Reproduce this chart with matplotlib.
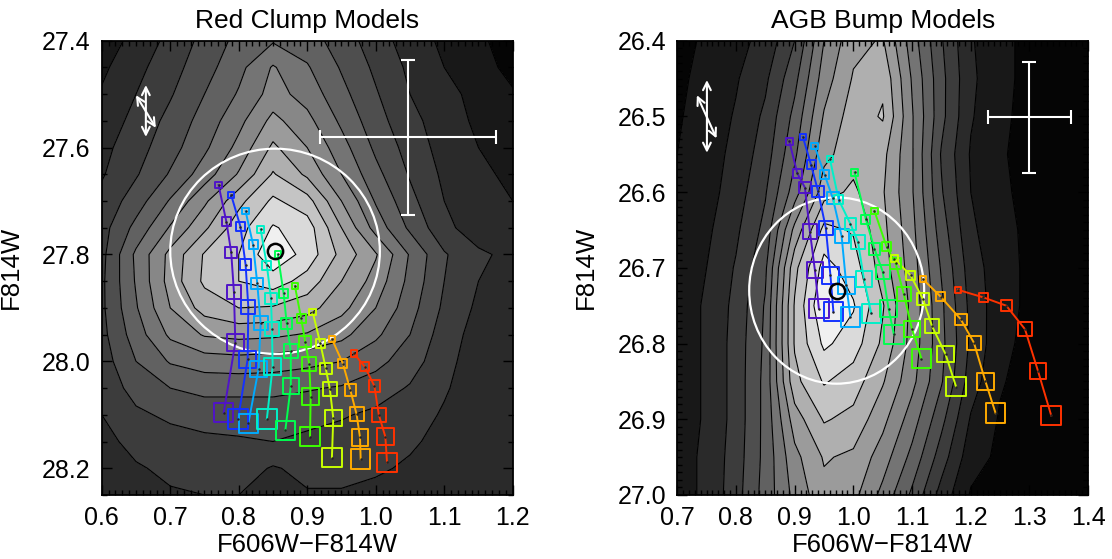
#!/usr/bin/env python3
import numpy as np
import matplotlib
matplotlib.use("Agg")
import matplotlib.pyplot as plt
from matplotlib.patches import Ellipse
from matplotlib.ticker import MultipleLocator, FormatStrFormatter

plt.rcParams["font.family"] = ["Liberation Sans", "DejaVu Sans"]

# ---------------------------------------------------------------- density maps
# binned star density, expressed in contour-level units
RC_COLOR = np.arange(0.60, 1.2001, 0.05)
RC_MAG = np.arange(27.40, 28.2501, 0.05)
RC_DENSITY = [
    [1.0, 1.8, 2.8, 3.8, 4.8, 5.4, 5.0, 4.0, 3.0, 2.0, 1.3, 0.7, 0.0],
    [1.3, 2.2, 3.1, 4.1, 5.2, 6.6, 5.6, 4.4, 3.3, 2.3, 1.5, 0.9, 0.2],
    [1.6, 2.5, 3.4, 4.5, 5.6, 6.9, 6.1, 4.8, 3.6, 2.5, 1.8, 1.2, 0.6],
    [1.9, 2.8, 3.8, 4.9, 6.2, 7.8, 6.8, 5.3, 3.9, 2.8, 2.0, 1.3, 0.9],
    [2.2, 3.1, 4.1, 5.3, 6.8, 8.7, 7.5, 5.9, 4.3, 3.1, 2.1, 1.5, 1.2],
    [2.4, 3.4, 4.6, 6.0, 7.6, 9.6, 8.3, 6.5, 4.8, 3.4, 2.3, 1.6, 1.4],
    [2.8, 4.0, 5.6, 7.3, 9.2, 10.7, 9.9, 7.5, 5.4, 3.8, 2.5, 1.7, 1.5],
    [3.1, 4.8, 6.6, 8.3, 10.1, 11.6, 11.0, 8.5, 6.1, 4.3, 2.8, 1.9, 1.6],
    [3.2, 5.7, 7.8, 9.6, 10.5, 12.3, 11.1, 9.2, 7.6, 5.4, 3.6, 2.7, 2.2],
    [3.3, 5.6, 7.9, 9.7, 10.5, 11.0, 10.1, 8.5, 7.1, 5.2, 3.5, 2.5, 2.0],
    [3.3, 5.4, 7.5, 8.9, 9.5, 9.4, 8.9, 7.8, 6.5, 4.9, 3.3, 2.3, 1.8],
    [3.2, 5.0, 6.7, 7.6, 7.8, 7.7, 7.4, 6.8, 5.7, 4.5, 3.0, 2.1, 1.7],
    [3.0, 4.5, 5.6, 6.0, 6.1, 6.0, 5.8, 5.5, 4.8, 4.0, 2.8, 2.0, 1.8],
    [2.8, 3.9, 4.5, 4.8, 4.8, 4.8, 4.6, 4.4, 4.0, 3.4, 2.6, 2.0, 1.8],
    [2.5, 3.3, 3.7, 3.9, 3.9, 3.9, 3.8, 3.6, 3.3, 2.9, 2.4, 2.1, 1.9],
    [2.2, 2.8, 3.1, 3.3, 3.4, 3.5, 3.3, 3.1, 2.9, 2.6, 2.3, 2.2, 2.0],
    [2.0, 2.4, 2.7, 2.9, 3.0, 2.4, 2.8, 2.8, 2.6, 2.4, 2.3, 2.2, 2.1],
    [1.8, 2.2, 2.4, 2.5, 2.5, 2.2, 2.4, 2.4, 2.3, 2.2, 2.2, 2.1, 2.0],
]

AGB_COLOR = np.arange(0.70, 1.4001, 0.05)
AGB_MAG = np.arange(26.40, 27.0001, 0.05)
AGB_DENSITY = [
    [0.3, 0.6, 1.2, 1.8, 3.5, 6.5, 8.2, 8.6, 6.0, 3.6, 1.6, 0.8, 0.2, 0.0, 0.0],
    [0.3, 0.8, 1.4, 2.3, 4.2, 7.0, 8.6, 9.3, 6.4, 3.8, 1.7, 0.8, 0.2, 0.0, 0.0],
    [0.4, 0.9, 1.6, 2.7, 4.8, 7.6, 9.0, 9.6, 6.6, 3.8, 1.6, 0.7, 0.2, 0.0, 0.0],
    [0.5, 1.0, 1.8, 3.0, 5.3, 8.2, 9.1, 8.8, 6.6, 3.4, 1.4, 0.6, 0.2, 0.0, 0.0],
    [0.6, 1.1, 2.0, 3.4, 6.0, 9.1, 9.7, 8.6, 6.6, 3.6, 1.5, 0.7, 0.2, 0.0, 0.0],
    [0.9, 1.3, 2.3, 3.8, 7.8, 10.8, 10.4, 8.8, 6.8, 4.0, 1.7, 0.8, 0.3, 0.0, 0.0],
    [1.1, 1.5, 2.6, 4.3, 9.2, 11.9, 11.0, 9.0, 7.0, 4.4, 2.0, 0.9, 0.3, 0.0, 0.0],
    [1.1, 1.6, 2.8, 4.6, 9.6, 12.5, 11.6, 9.6, 7.2, 4.7, 2.2, 0.9, 0.3, 0.0, 0.0],
    [1.1, 1.6, 2.9, 4.7, 9.6, 11.7, 11.0, 9.3, 7.1, 4.8, 2.3, 0.8, 0.2, 0.0, 0.0],
    [1.1, 1.6, 2.9, 4.8, 9.2, 10.6, 10.0, 8.6, 6.8, 4.6, 2.0, 0.6, 0.1, 0.0, 0.0],
    [1.1, 1.6, 2.9, 4.8, 8.0, 9.6, 9.2, 7.8, 6.0, 3.8, 1.4, 0.4, 0.1, 0.0, 0.0],
    [1.1, 1.7, 3.0, 4.8, 7.2, 8.6, 8.3, 7.0, 5.2, 3.0, 0.9, 0.3, 0.0, 0.0, 0.0],
    [1.1, 1.7, 3.1, 4.9, 6.8, 8.2, 7.8, 6.2, 4.3, 2.1, 0.4, 0.1, 0.0, 0.0, 0.0],
]

# ---------------------------------------------------------------- model tracks
RC_TRACK_COLOR = [
    [0.7705, 0.782, 0.789, 0.793, 0.795, 0.778],
    [0.789, 0.8025, 0.810, 0.814, 0.813, 0.799],
    [0.810, 0.821, 0.827, 0.832, 0.829, 0.814],
    [0.832, 0.841, 0.847, 0.8485, 0.8495, 0.841],
    [0.857, 0.8655, 0.870, 0.876, 0.876, 0.868],
    [0.882, 0.891, 0.897, 0.903, 0.905, 0.904],
    [0.908, 0.919, 0.927, 0.933, 0.938, 0.936],
    [0.936, 0.952, 0.963, 0.972, 0.977, 0.978],
    [0.968, 0.984, 0.998, 1.0045, 1.014, 1.0165],
]
RC_TRACK_MAG = [
    [27.670, 27.739, 27.796, 27.871, 27.965, 28.096],
    [27.689, 27.748, 27.819, 27.899, 27.996, 28.108],
    [27.719, 27.782, 27.854, 27.929, 28.014, 28.116],
    [27.753, 27.820, 27.882, 27.940, 28.010, 28.108],
    [27.800, 27.873, 27.929, 27.980, 28.046, 28.129],
    [27.859, 27.919, 27.963, 28.005, 28.066, 28.141],
    [27.908, 27.966, 28.013, 28.052, 28.106, 28.180],
    [27.958, 28.004, 28.054, 28.099, 28.142, 28.183],
    [27.985, 28.010, 28.046, 28.100, 28.141, 28.189],
]

AGB_TRACK_COLOR = [
    [0.891, 0.9044, 0.9175, 0.926, 0.9345, 0.9413],
    [0.914, 0.928, 0.940, 0.953, 0.961, 0.966],
    [0.934, 0.951, 0.965, 0.980, 0.988, 0.995],
    [0.960, 0.975, 0.995, 1.008, 1.018, 1.0305],
    [1.002, 1.0214, 1.036, 1.050, 1.060, 1.069],
    [1.036, 1.0566, 1.072, 1.086, 1.100, 1.116],
    [1.070, 1.0975, 1.1185, 1.134, 1.157, 1.175],
    [1.1185, 1.1486, 1.183, 1.2054, 1.225, 1.2423],
    [1.178, 1.2213, 1.2605, 1.2923, 1.3144, 1.337],
]
AGB_TRACK_MAG = [
    [26.533, 26.575, 26.594, 26.652, 26.703, 26.754],
    [26.527, 26.564, 26.599, 26.647, 26.710, 26.758],
    [26.539, 26.577, 26.608, 26.658, 26.723, 26.765],
    [26.556, 26.610, 26.642, 26.666, 26.715, 26.760],
    [26.574, 26.636, 26.675, 26.705, 26.754, 26.788],
    [26.625, 26.672, 26.694, 26.735, 26.781, 26.820],
    [26.688, 26.710, 26.741, 26.777, 26.814, 26.857],
    [26.715, 26.738, 26.768, 26.799, 26.850, 26.892],
    [26.729, 26.739, 26.750, 26.781, 26.836, 26.895],
]

# observed clump position, search radius, errors and reddening vectors
RC_OBS = (0.853, 27.794)
RC_RADIUS = (0.153, 0.192)
RC_ERR_POS = (1.047, 27.581)
RC_ERR = (0.128, 0.145)
RC_ARROWS = [((0.6644, 27.580), (0.6644, 27.483)), ((0.650, 27.502), (0.679, 27.563))]

AGB_OBS = (0.9716, 26.730)
AGB_RADIUS = (0.149, 0.123)
AGB_ERR_POS = (1.300, 26.501)
AGB_ERR = (0.070, 0.0734)
AGB_ARROWS = [((0.7506, 26.548), (0.7506, 26.452)), ((0.7335, 26.472), (0.767, 26.529))]

TRACK_COLORS = ["#5014c8", "#1432ff", "#00aaff", "#00f0c8", "#00ff50",
                "#3cff00", "#c8ff00", "#ffaa00", "#ff3200"]
SQUARE_PT = [4.7, 6.5, 8.3, 10.1, 11.9, 14.0]
GRAYS = ["#050505", "#181818", "#2a2a2a", "#3c3c3c", "#4e4e4e", "#616161",
         "#747474", "#878787", "#9b9b9b", "#afafaf", "#c4c4c4", "#dadada", "#f0f0f0"]


def draw_panel(ax, title, cgrid, mgrid, dens, tcol, tmag, obs, radius,
               err_pos, err, arrows, xlim, ylim, ymajor, yminor):
    X, Y = np.meshgrid(cgrid, mgrid)
    Z = np.array(dens)
    ax.contourf(X, Y, Z, levels=np.arange(-0.5, 13.0, 1.0), colors=GRAYS, extend="both")
    ax.contour(X, Y, Z, levels=np.arange(0.5, 12.0, 1.0), colors="k", linewidths=0.8)

    ax.add_patch(Ellipse(obs, 2 * radius[0], 2 * radius[1], fill=False,
                         edgecolor="white", lw=1.6, zorder=3))

    for i in range(len(tcol)):
        ax.plot(tcol[i], tmag[i], color=TRACK_COLORS[i], lw=1.4, zorder=4)
        ax.scatter(tcol[i], tmag[i], s=np.array(SQUARE_PT) ** 2, marker="s",
                   facecolors="none", edgecolors=TRACK_COLORS[i], linewidths=1.4, zorder=5)
        ax.plot(tcol[i], tmag[i], ls="none", marker=".", ms=1.5, color="#222222", zorder=6)

    ax.plot(*obs, marker="o", ms=11, mfc="none", mec="black", mew=1.8, zorder=7)

    ax.errorbar(err_pos[0], err_pos[1], xerr=err[0], yerr=err[1], fmt="none",
                ecolor="white", elinewidth=1.5, capsize=5, capthick=1.5, zorder=6)

    for start, end in arrows:
        ax.annotate("", xy=end, xytext=start,
                    arrowprops=dict(arrowstyle="<->", color="white", lw=1.5,
                                    shrinkA=0, shrinkB=0, mutation_scale=14))

    ax.set_xlim(*xlim)
    ax.set_ylim(*ylim)
    ax.set_title(title, fontsize=19, pad=9)
    ax.set_xlabel("F606W\u2212F814W", fontsize=18.5, labelpad=2)
    ax.set_ylabel("F814W", fontsize=18.5, labelpad=14)
    ax.xaxis.set_major_locator(MultipleLocator(0.1))
    ax.xaxis.set_minor_locator(MultipleLocator(0.01))
    ax.yaxis.set_major_locator(MultipleLocator(ymajor))
    ax.yaxis.set_minor_locator(MultipleLocator(yminor))
    ax.xaxis.set_major_formatter(FormatStrFormatter("%.1f"))
    ax.yaxis.set_major_formatter(FormatStrFormatter("%.1f"))
    ax.tick_params(which="both", direction="in", top=True, right=True,
                   labelsize=18, width=1.0)
    ax.tick_params(which="major", length=7, pad=8)
    ax.tick_params(which="minor", length=3.5)
    for sp in ax.spines.values():
        sp.set_linewidth(1.3)


def main():
    fig = plt.figure(figsize=(11.12, 5.59), dpi=100)
    ax1 = fig.add_axes([0.0915, 0.1145, 0.3696, 0.8127])
    ax2 = fig.add_axes([0.609, 0.1145, 0.3696, 0.8127])

    draw_panel(ax1, "Red Clump Models", RC_COLOR, RC_MAG, RC_DENSITY,
               RC_TRACK_COLOR, RC_TRACK_MAG, RC_OBS, RC_RADIUS,
               RC_ERR_POS, RC_ERR, RC_ARROWS, (0.6, 1.2), (28.25, 27.4), 0.2, 0.05)
    draw_panel(ax2, "AGB Bump Models", AGB_COLOR, AGB_MAG, AGB_DENSITY,
               AGB_TRACK_COLOR, AGB_TRACK_MAG, AGB_OBS, AGB_RADIUS,
               AGB_ERR_POS, AGB_ERR, AGB_ARROWS, (0.7, 1.4), (27.0, 26.4), 0.1, 0.01)

    fig.savefig("out.png", dpi=100)


if __name__ == "__main__":
    main()
